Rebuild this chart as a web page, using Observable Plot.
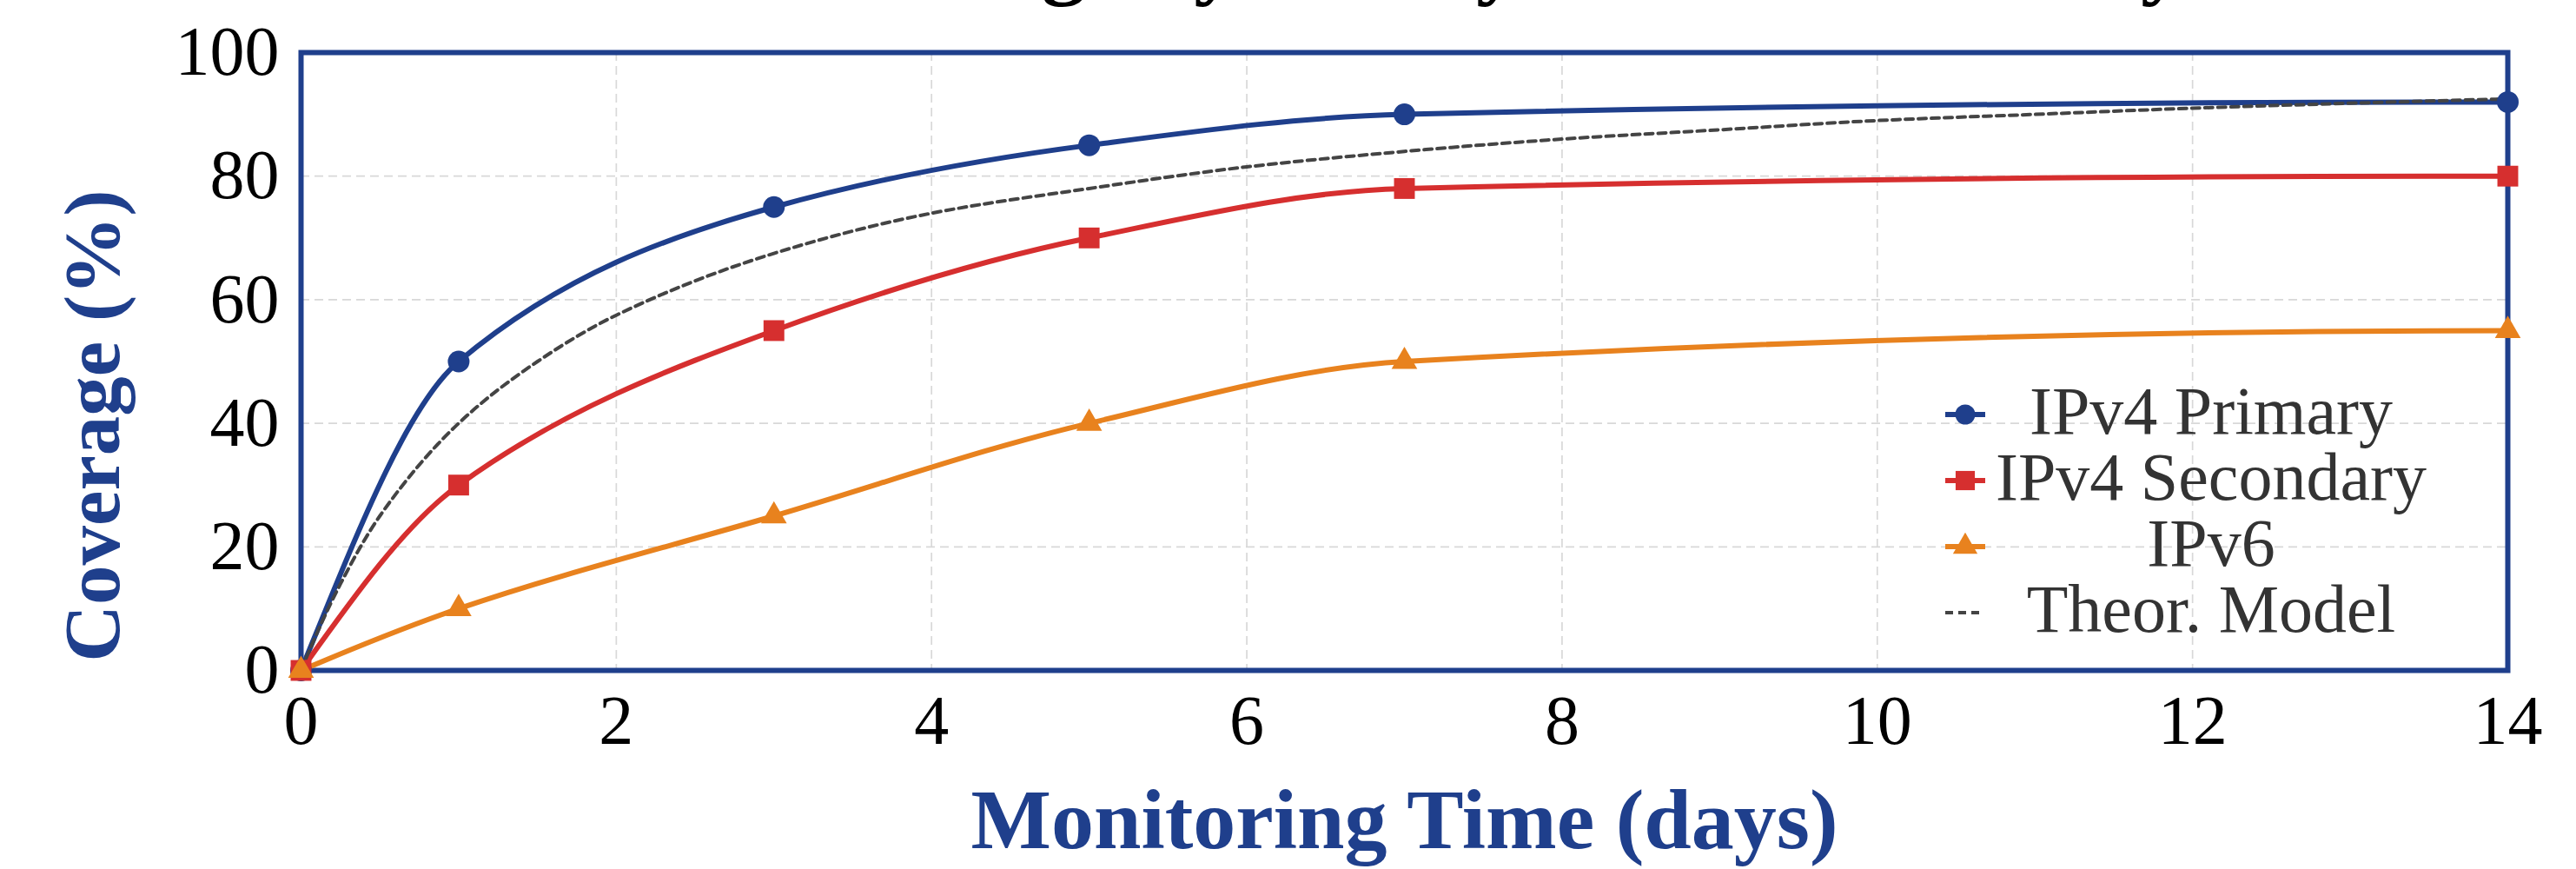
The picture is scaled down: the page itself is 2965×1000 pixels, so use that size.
<!DOCTYPE html>
<html>
<head>
<meta charset="utf-8">
<script src="https://cdn.jsdelivr.net/npm/d3@7"></script>
<script src="https://cdn.jsdelivr.net/npm/@observablehq/plot@0.6"></script>
<style>
  html, body { margin: 0; padding: 0; background: #fff; overflow: hidden; }
  #wrap { position: relative; width: 2965px; height: 1000px; overflow: hidden; }
  #title { position: absolute; left: 0; top: -96px; width: 2916px; text-align: center;
           font-family: "Liberation Serif", serif; font-weight: bold; font-size: 100px; line-height: 1; color: #000; }
</style>
</head>
<body>
<div id="wrap">
  <div id="title">Cumulative Coverage by Family over the Test Days</div>
</div>
<script>
// ---- data ----
const days = [0, 1, 3, 5, 7, 14];
const ipv4Primary = [0, 50, 75, 85, 90, 92];
const ipv4Secondary = [0, 30, 55, 70, 78, 80];
const ipv6 = [0, 10, 25, 40, 50, 55];
const modelDays = [0, 0.25, 0.5, 1, 1.5, 2, 3, 4, 5, 6, 7, 8, 9, 10, 11, 12, 13, 14];
const modelCoverage = [0, 14, 25, 40, 50, 57.5, 67.5, 74, 78, 81.5, 84, 86, 87.5, 89, 90, 91, 91.8, 92.5];
const xTicks = [0, 2, 4, 6, 8, 10, 12, 14];
const yTicks = [0, 20, 40, 60, 80, 100];
const seriesNames = ["IPv4 Primary", "IPv4 Secondary", "IPv6", "Theor. Model"];
const xLabel = "Monitoring Time (days)";
const yLabel = "Coverage (%)";

// ---- styles ----
const BLUE = "#1f3f8c", RED = "#d62f2f", ORANGE = "#e8821e", MODEL = "#444444";
const series = [
  {name: seriesNames[0], values: ipv4Primary, color: BLUE, symbol: "circle", r: 12.5},
  {name: seriesNames[1], values: ipv4Secondary, color: RED, symbol: "square", r: 13.5},
  {name: seriesNames[2], values: ipv6, color: ORANGE, symbol: "triangle", r: 11}
];
const seriesData = series.map(s => days.map((d, i) => ({day: d, cov: s.values[i]})));
const modelData = modelDays.map((d, i) => ({day: d, cov: modelCoverage[i]}));

// shape-preserving piecewise cubic (PCHIP) curve, drawn through the given points
function curvePchip(context) {
  let xs, ys;
  return {
    areaStart() {}, areaEnd() {},
    lineStart() { xs = []; ys = []; },
    point(x, y) { xs.push(+x); ys.push(+y); },
    lineEnd() {
      const n = xs.length;
      if (!n) return;
      context.moveTo(xs[0], ys[0]);
      if (n === 1) return;
      if (n === 2) { context.lineTo(xs[1], ys[1]); return; }
      const h = [], d = [];
      for (let i = 0; i < n - 1; i++) { h[i] = xs[i + 1] - xs[i]; d[i] = (ys[i + 1] - ys[i]) / h[i]; }
      const m = new Array(n);
      for (let k = 1; k < n - 1; k++) {
        if (d[k - 1] * d[k] <= 0) m[k] = 0;
        else { const w1 = 2 * h[k] + h[k - 1], w2 = h[k] + 2 * h[k - 1]; m[k] = (w1 + w2) / (w1 / d[k - 1] + w2 / d[k]); }
      }
      const edge = (h0, h1, m0, m1) => {
        let dd = ((2 * h0 + h1) * m0 - h0 * m1) / (h0 + h1);
        if (Math.sign(dd) !== Math.sign(m0)) dd = 0;
        else if (Math.sign(m0) !== Math.sign(m1) && Math.abs(dd) > 3 * Math.abs(m0)) dd = 3 * m0;
        return dd;
      };
      m[0] = edge(h[0], h[1], d[0], d[1]);
      m[n - 1] = edge(h[n - 2], h[n - 3], d[n - 2], d[n - 3]);
      for (let i = 0; i < n - 1; i++) {
        const dx = h[i] / 3;
        context.bezierCurveTo(xs[i] + dx, ys[i] + m[i] * dx, xs[i + 1] - dx, ys[i + 1] - m[i + 1] * dx, xs[i + 1], ys[i + 1]);
      }
    }
  };
}

const marks = [
  Plot.gridX(xTicks, {stroke: "#d8d8d8", strokeOpacity: 1, strokeWidth: 1.7, strokeDasharray: "10,6"}),
  Plot.gridY(yTicks, {stroke: "#d8d8d8", strokeOpacity: 1, strokeWidth: 1.7, strokeDasharray: "10,6"}),
  Plot.frame({stroke: BLUE, strokeWidth: 6}),
  Plot.axisX(xTicks, {tickSize: 0, tickPadding: 28, fontSize: 80, fill: "#000", label: null, tickFormat: d => String(d)}),
  Plot.axisY(yTicks, {tickSize: 0, tickPadding: 25, fontSize: 80, fill: "#000", label: null, tickFormat: d => String(d)}),
  Plot.text([xLabel], {text: d => d, frameAnchor: "bottom", dy: 204, fontSize: 98, fontWeight: "bold", fill: BLUE}),
  Plot.text([yLabel], {text: d => d, frameAnchor: "left", textAnchor: "middle", rotate: -90, dx: -239, dy: 74, fontSize: 91, fontWeight: "bold", fill: BLUE})
];
series.forEach((s, k) => {
  marks.push(Plot.line(seriesData[k], {x: "day", y: "cov", stroke: s.color, strokeWidth: 6, curve: curvePchip}));
});
marks.push(Plot.line(modelData, {x: "day", y: "cov", stroke: MODEL, strokeWidth: 4, strokeDasharray: "9,6", curve: curvePchip}));
series.forEach((s, k) => {
  marks.push(Plot.dot(seriesData[k], {x: "day", y: "cov", symbol: () => s.symbol, r: s.r, fill: s.color, stroke: "none"}));
});

const chart = Plot.plot({
  width: 2965,
  height: 1000,
  marginLeft: 346,
  marginRight: 79,
  marginTop: 60,
  marginBottom: 229,
  x: {domain: [0, 14]},
  y: {domain: [0, 100]},
  symbol: {type: "identity"},
  style: {fontFamily: "'Liberation Serif', serif", background: "transparent", color: "#000", overflow: "visible"},
  marks
});
document.getElementById("wrap").appendChild(chart);

// ---- legend (inside the plot frame, lower right) ----
const svg = d3.select(chart);
const lg = svg.append("g").attr("class", "legend");
const legendItems = [
  {name: seriesNames[0], color: BLUE, sym: d3.symbolCircle, r: 11.5},
  {name: seriesNames[1], color: RED, sym: d3.symbolSquare, r: 12.5},
  {name: seriesNames[2], color: ORANGE, sym: d3.symbolTriangle, r: 10.5}
  ,{name: seriesNames[3], color: MODEL, sym: null}
];
legendItems.forEach((it, i) => {
  const base = 499 + 76 * i;
  const cy = base - 22;
  const g = lg.append("g");
  if (it.sym) {
    g.append("line").attr("x1", 2239).attr("x2", 2285).attr("y1", cy).attr("y2", cy)
      .attr("stroke", it.color).attr("stroke-width", 6);
    g.append("path").attr("d", d3.symbol(it.sym, Math.PI * it.r * it.r)())
      .attr("transform", `translate(2262,${cy})`).attr("fill", it.color);
  } else {
    g.append("line").attr("x1", 2239).attr("x2", 2283).attr("y1", cy).attr("y2", cy)
      .attr("stroke", it.color).attr("stroke-width", 4).attr("stroke-dasharray", "9,6");
  }
  g.append("text").attr("x", 2545).attr("y", base).attr("text-anchor", "middle")
    .attr("font-size", 78).attr("fill", "#333").attr("font-family", "'Liberation Serif', serif")
    .text(it.name);
});
</script>
</body>
</html>
